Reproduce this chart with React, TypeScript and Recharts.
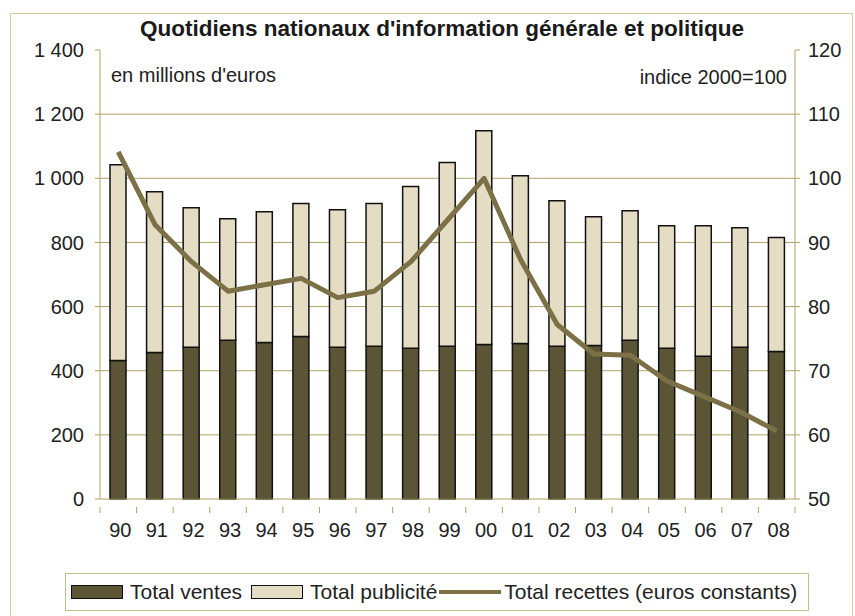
import React from 'react';
import { ComposedChart, Bar, Line, XAxis, YAxis, CartesianGrid } from 'recharts';

const years = ['90', '91', '92', '93', '94', '95', '96', '97', '98', '99', '00', '01', '02', '03', '04', '05', '06', '07', '08'];
const totalVentes = [432, 457, 473, 495, 488, 507, 473, 476, 470, 476, 482, 485, 476, 479, 495, 470, 445, 473, 460];
const totalPublicite = [610, 501, 435, 379, 408, 414, 429, 445, 504, 573, 666, 523, 454, 401, 404, 382, 407, 373, 355];
const totalRecettes = [104.1, 92.8, 87, 82.4, 83.4, 84.4, 81.4, 82.4, 87, 93.5, 100, 87.3, 77.2, 72.6, 72.4, 68.4, 66, 63.6, 60.6];
const leftTicks = [0, 200, 400, 600, 800, 1000, 1200, 1400];
const rightTicks = [50, 60, 70, 80, 90, 100, 110, 120];

const data = years.map((y, i) => ({
  year: y,
  ventes: totalVentes[i],
  pub: totalPublicite[i],
  recettes: totalRecettes[i],
}));

const FONT = '"Liberation Sans", Arial, sans-serif';
const AXIS = '#b0a264';
const DARK = '#5c5535';
const LIGHT = '#e4ddc4';
const LINE = '#7b7046';

const PLOT_LEFT = 100;
const PLOT_RIGHT = 795;
const BAND = (PLOT_RIGHT - PLOT_LEFT) / years.length;

const fmt = (v: number) => (v >= 1000 ? `${Math.floor(v / 1000)} ${String(v % 1000).padStart(3, '0')}` : String(v));

const XTick = (props: any) => {
  const { x, y, payload, index } = props;
  return (
    <g>
      <line x1={x - BAND / 2} y1={y} x2={x - BAND / 2} y2={y + 6} stroke={AXIS} strokeWidth={1} />
      {index === years.length - 1 && (
        <line x1={x + BAND / 2} y1={y} x2={x + BAND / 2} y2={y + 6} stroke={AXIS} strokeWidth={1} />
      )}
      <text x={x + 2} y={y + 30} textAnchor="middle" fontSize={20} fill="#222" fontFamily={FONT}>
        {payload.value}
      </text>
    </g>
  );
};

const Swatch = ({ fill }: { fill: string }) => (
  <span style={{ display: 'inline-block', width: 50, height: 12, background: fill, border: '1px solid #111', marginRight: 7 }} />
);

export default function App() {
  return (
    <div style={{ position: 'absolute', left: 0, top: 0, width: 855, height: 616, background: '#fff', fontFamily: FONT, overflow: 'hidden' }}>
      <div style={{ position: 'absolute', left: 10, top: 13, width: 841, height: 610, borderLeft: '1px solid #d6cca0', borderTop: '1px solid #d6cca0', borderRight: '1px solid #d6cca0' }} />
      <div style={{ position: 'absolute', left: 0, top: 16, width: 884, textAlign: 'center', fontSize: 22.5, fontWeight: 'bold', color: '#1a1a1a' }}>
        Quotidiens nationaux d'information générale et politique
      </div>
      <ComposedChart
        width={855}
        height={616}
        data={data}
        margin={{ top: 50, right: 10, bottom: 87, left: 40 }}
        barCategoryGap={0}
        style={{ position: 'absolute', left: 0, top: 0 }}
      >
        <CartesianGrid yAxisId="left" vertical={false} horizontalValues={[200, 400, 600, 800, 1000, 1200]} stroke={AXIS} strokeWidth={1} />
        <XAxis
          dataKey="year"
          height={30}
          axisLine={{ stroke: AXIS }}
          tickLine={false}
          tick={<XTick />}
          interval={0}
        />
        <YAxis
          yAxisId="left"
          width={60}
          domain={[0, 1400]}
          ticks={leftTicks}
          tickFormatter={fmt}
          axisLine={{ stroke: AXIS }}
          tickLine={{ stroke: AXIS }}
          tickSize={5}
          tickMargin={11}
          tick={{ fontSize: 20, fill: '#222', fontFamily: FONT }}
          interval={0}
        />
        <YAxis
          yAxisId="right"
          orientation="right"
          width={50}
          domain={[50, 120]}
          ticks={rightTicks}
          axisLine={{ stroke: AXIS }}
          tickLine={{ stroke: AXIS }}
          tickSize={5}
          tickMargin={8}
          tick={{ fontSize: 20, fill: '#222', fontFamily: FONT }}
          interval={0}
        />
        <Bar yAxisId="left" dataKey="ventes" stackId="a" fill={DARK} stroke="#111" strokeWidth={1.5} barSize={16} isAnimationActive={false} />
        <Bar yAxisId="left" dataKey="pub" stackId="a" fill={LIGHT} stroke="#111" strokeWidth={1.5} barSize={16} isAnimationActive={false} />
        <Line yAxisId="right" dataKey="recettes" type="linear" stroke={LINE} strokeWidth={5} strokeLinejoin="round" dot={false} isAnimationActive={false} />
      </ComposedChart>
      <div style={{ position: 'absolute', left: 111, top: 64, fontSize: 20, color: '#222' }}>en millions d'euros</div>
      <div style={{ position: 'absolute', right: 855 - 787, top: 66, fontSize: 20, color: '#222' }}>indice 2000=100</div>
      <div
        style={{
          position: 'absolute',
          left: 65,
          top: 573,
          width: 744,
          height: 38,
          border: '1px solid #c9bd8a',
          display: 'flex',
          alignItems: 'center',
          paddingLeft: 5,
          boxSizing: 'border-box',
          fontSize: 21,
          color: '#222',
          whiteSpace: 'nowrap',
        }}
      >
        <Swatch fill={DARK} />
        <span style={{ marginRight: 9 }}>Total ventes</span>
        <Swatch fill={LIGHT} />
        <span style={{ marginRight: 2 }}>Total publicité</span>
        <span style={{ display: 'inline-block', width: 62, height: 4, background: LINE, marginRight: 3 }} />
        <span>Total recettes (euros constants)</span>
      </div>
    </div>
  );
}
